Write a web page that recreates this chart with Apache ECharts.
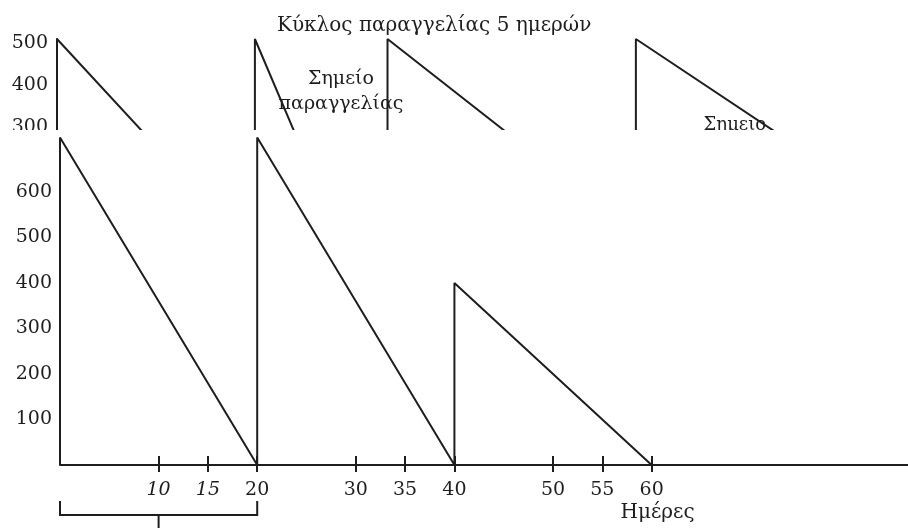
<!DOCTYPE html>
<html>
<head>
<meta charset="utf-8">
<script src="https://cdn.jsdelivr.net/npm/echarts@6/dist/echarts.min.js"></script>
<style>
  html, body { margin: 0; padding: 0; background: #fff; }
  #chart { width: 908px; height: 528px; }
</style>
</head>
<body>
<div id="chart"></div>
<script>
// main chart: stock level over days (sawtooth)
const mainDays  = [0, 0, 20, 20, 40, 40, 60];
const mainStock = [0, 720, 0, 720, 0, 400, 0];
const dayTicks  = [10, 15, 20, 30, 35, 40, 50, 55, 60];
const italicTicks = [10, 15];
const stockTicks = [100, 200, 300, 400, 500, 600];
const bracketDays = [0, 10, 20];

// partly hidden figure behind (5-day order cycle)
const upperOrderDay = [0, 20, 33.4, 58.5];
const upperEmptyDay = [20, 29.2, 61, 91];
const upperPeak = 510;
const upperTicks = [300, 400, 500];

const FONT = 'DejaVu Serif';
const INK = '#1e1e1e';

let chart = echarts.init(document.getElementById('chart'));

let upperSeries = upperOrderDay.map((d, i) => ({
    type: 'line',
    xAxisIndex: 2,
    yAxisIndex: 1,
    symbol: 'none',
    silent: true,
    lineStyle: { color: INK, width: 2 },
    data: [[d, 0], [d, upperPeak], [upperEmptyDay[i], 0]]
}));

chart.setOption({
    animation: false,
    backgroundColor: '#fff',
    title: {
        text: 'Κύκλος παραγγελίας 5 ημερών',
        left: 272,
        top: 11,
        textStyle: { fontFamily: FONT, fontSize: 20, fontWeight: 'normal', color: INK }
    },
    grid: [
        { left: 60, right: 0, top: 137.4, bottom: 63, z: 10 },
        { left: 57, right: 0, top: 39, bottom: 398 }
    ],
    xAxis: [
        {
            type: 'value', gridIndex: 0, position: 'bottom', min: 0, max: 86, z: 10,
            splitLine: { show: false },
            axisLine: { lineStyle: { color: INK, width: 2 } },
            axisTick: { customValues: dayTicks, inside: false, length: 7, lineStyle: { color: INK, width: 2 } },
            axisLabel: {
                customValues: dayTicks,
                margin: 16,
                formatter: function (v) {
                    return italicTicks.indexOf(v) >= 0 ? '{i|' + v + '}' : '{n|' + v + '}';
                },
                rich: {
                    i: { fontFamily: FONT, fontSize: 19, fontStyle: 'italic', color: INK },
                    n: { fontFamily: FONT, fontSize: 19, color: INK }
                }
            }
        },
        {
            type: 'value', gridIndex: 0, position: 'bottom', min: 0, max: 86, z: 10,
            splitLine: { show: false },
            axisLine: { show: false },
            axisLabel: { show: false },
            axisTick: { customValues: dayTicks, inside: true, length: 9, lineStyle: { color: INK, width: 2 } }
        },
        {
            type: 'value', gridIndex: 1, min: 0, max: 86, show: false
        }
    ],
    yAxis: [
        {
            type: 'value', gridIndex: 0, min: 0, max: 720, z: 10,
            splitLine: { show: false },
            axisLine: { show: false },
            axisTick: { show: false },
            axisLabel: { customValues: stockTicks, margin: 8, fontFamily: FONT, fontSize: 19, color: INK }
        },
        {
            type: 'value', gridIndex: 1, min: 293.3, max: 510,
            splitLine: { show: false },
            axisLine: { show: true, lineStyle: { color: INK, width: 2 } },
            axisTick: { show: false },
            axisLabel: { customValues: upperTicks, margin: 9, fontFamily: FONT, fontSize: 19, color: INK }
        }
    ],
    series: upperSeries.concat([{
        type: 'line',
        xAxisIndex: 0,
        yAxisIndex: 0,
        z: 10,
        symbol: 'none',
        silent: true,
        lineStyle: { color: INK, width: 2 },
        data: mainDays.map((d, i) => [d, mainStock[i]])
    }])
});

// overlays placed through the chart's own scales
const px = (grid, x, y) => chart.convertToPixel({ gridIndex: grid }, [x, y]);
const coverTop = px(1, 0, 293.3)[1];
const b0 = px(0, bracketDays[0], 0);
const b1 = px(0, bracketDays[1], 0);
const b2 = px(0, bracketDays[2], 0);
const by = b0[1] + 50;
const noteA = px(1, 28.7, 384);
const noteB = px(1, 68.5, 305);
const daysLbl = px(0, 60.6, -105);

chart.setOption({
    graphic: [
        { type: 'text', id: 'noteA', z: 3, x: noteA[0], y: noteA[1],
          style: { text: 'Σημείο\nπαραγγελίας', font: '19px "' + FONT + '"', fill: INK, align: 'center', verticalAlign: 'middle', lineHeight: 25 } },
        { type: 'text', id: 'noteB', z: 3, x: noteB[0], y: noteB[1],
          style: { text: 'Σημειο', font: '18px "' + FONT + '"', fill: INK, align: 'center', verticalAlign: 'middle' } },
        { type: 'rect', id: 'cover', z: 5, shape: { x: 0, y: coverTop, width: 908, height: 528 - coverTop },
          style: { fill: '#fff' } },
        { type: 'polyline', id: 'bracket', z: 11,
          shape: { points: [[b0[0], by - 14], [b0[0], by], [b2[0], by], [b2[0], by - 14]] },
          style: { stroke: INK, lineWidth: 2, fill: null } },
        { type: 'line', id: 'stem', z: 11,
          shape: { x1: b1[0], y1: by, x2: b1[0], y2: 528 },
          style: { stroke: INK, lineWidth: 2 } },
        { type: 'text', id: 'days', z: 11, x: daysLbl[0], y: daysLbl[1],
          style: { text: 'Ημέρες', font: '20px "' + FONT + '"', fill: INK, align: 'center', verticalAlign: 'middle' } }
    ]
});
</script>
</body>
</html>
